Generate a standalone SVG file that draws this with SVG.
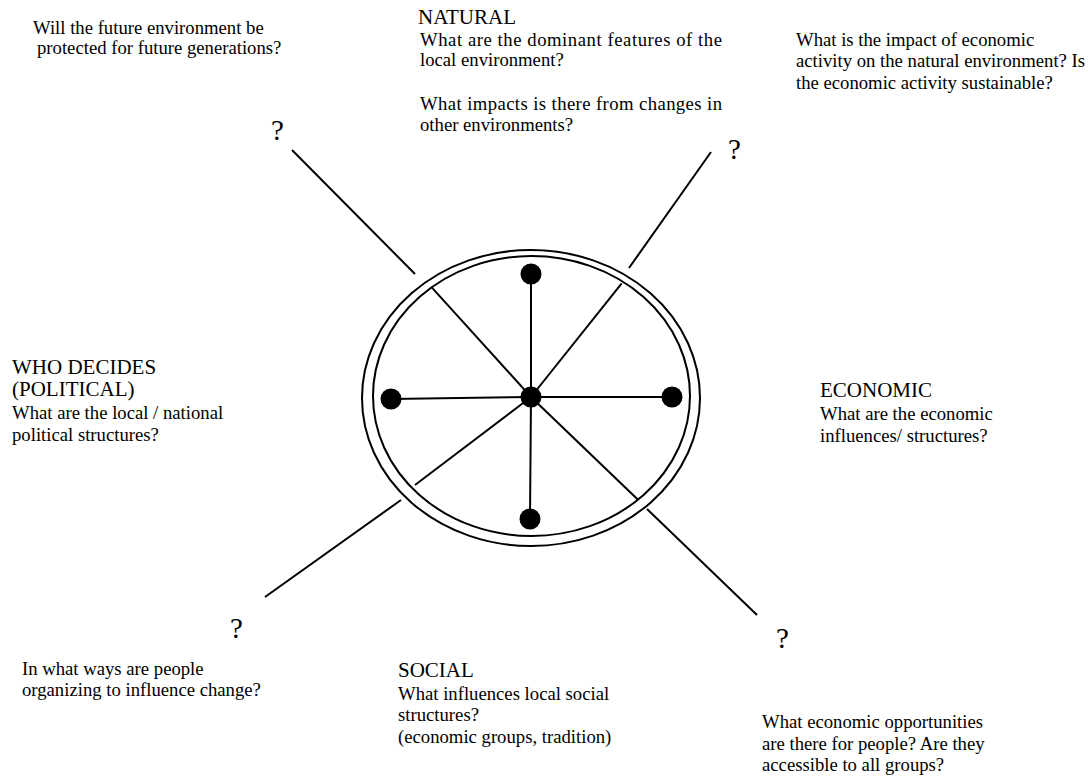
<svg xmlns="http://www.w3.org/2000/svg" width="1088" height="776" viewBox="0 0 1088 776">
<style>
text{font-family:'Liberation Serif',Tinos,'DejaVu Serif',serif;fill:#000}
.h{font-size:21px}
.b{font-size:18.7px}
.q{font-size:29px}
.ln{stroke:#000;stroke-width:2;fill:none}
.ring{stroke:#000;stroke-width:2;fill:none}
.dot{fill:#000}
</style>
<rect width="1088" height="776" fill="#fff"/>
<g id="wheel">
<ellipse class="ring" cx="531" cy="398" rx="169" ry="148"/>
<ellipse class="ring" cx="531.5" cy="396" rx="158.5" ry="140"/>
</g>
<g id="connectors">
<line class="ln" x1="531" y1="397" x2="531" y2="274"/>
<line class="ln" x1="531" y1="397" x2="530" y2="519"/>
<line class="ln" x1="531" y1="397" x2="391" y2="399"/>
<line class="ln" x1="531" y1="397" x2="672" y2="397"/>
<line class="ln" x1="531" y1="397" x2="431.7" y2="287.3"/>
<line class="ln" x1="531" y1="397" x2="621.7" y2="283.3"/>
<line class="ln" x1="531" y1="397" x2="415" y2="485"/>
<line class="ln" x1="531" y1="397" x2="638.3" y2="500"/>
<line class="ln" x1="292" y1="150" x2="415" y2="274"/>
<line class="ln" x1="711" y1="152" x2="629" y2="268"/>
<line class="ln" x1="265" y1="597" x2="401" y2="500"/>
<line class="ln" x1="647" y1="509" x2="757" y2="615"/>
</g>
<g id="dots">
<circle class="dot" cx="531" cy="397" r="10.5"/>
<circle class="dot" cx="531" cy="274" r="10.5"/>
<circle class="dot" cx="530" cy="519" r="10.5"/>
<circle class="dot" cx="391" cy="399" r="10.5"/>
<circle class="dot" cx="672" cy="397" r="10.5"/>
</g>
<g font-family="Liberation Serif, Tinos, DejaVu Serif, serif">
<g id="natural">
<text class="h" x="418" y="24">NATURAL</text>
<text class="b" x="420" y="46" textLength="302" lengthAdjust="spacing">What are the dominant features of the</text>
<text class="b" x="420" y="66">local environment?</text>
<text class="b" x="420" y="110" textLength="302" lengthAdjust="spacing">What impacts is there from changes in</text>
<text class="b" x="420" y="131">other environments?</text>
</g>
<g id="future">
<text class="b" x="33" y="34">Will the future environment be</text>
<text class="b" x="37" y="54">protected for future generations?</text>
</g>
<g id="impact">
<text class="b" x="796" y="46">What is the impact of economic</text>
<text class="b" x="796" y="67">activity on the natural environment? Is</text>
<text class="b" x="796" y="89">the economic activity sustainable?</text>
</g>
<g id="political">
<text class="h" x="12" y="374">WHO DECIDES</text>
<text class="h" x="12" y="396">(POLITICAL)</text>
<text class="b" x="12" y="419">What are the local / national</text>
<text class="b" x="12" y="441">political structures?</text>
</g>
<g id="economic">
<text class="h" x="820" y="397">ECONOMIC</text>
<text class="b" x="820" y="420">What are the economic</text>
<text class="b" x="820" y="442">influences/ structures?</text>
</g>
<g id="organizing">
<text class="b" x="22" y="675">In what ways are people</text>
<text class="b" x="22" y="696">organizing to influence change?</text>
</g>
<g id="social">
<text class="h" x="398" y="677">SOCIAL</text>
<text class="b" x="398" y="700">What influences local social</text>
<text class="b" x="398" y="721">structures?</text>
<text class="b" x="398" y="743">(economic groups, tradition)</text>
</g>
<g id="opportunities">
<text class="b" x="762" y="728">What economic opportunities</text>
<text class="b" x="762" y="750">are there for people? Are they</text>
<text class="b" x="762" y="771">accessible to all groups?</text>
</g>
<g id="questions">
<text class="q" x="271" y="140">?</text>
<text class="q" x="728" y="159">?</text>
<text class="q" x="230" y="638">?</text>
<text class="q" x="776" y="648">?</text>
</g>
</g>
</svg>
